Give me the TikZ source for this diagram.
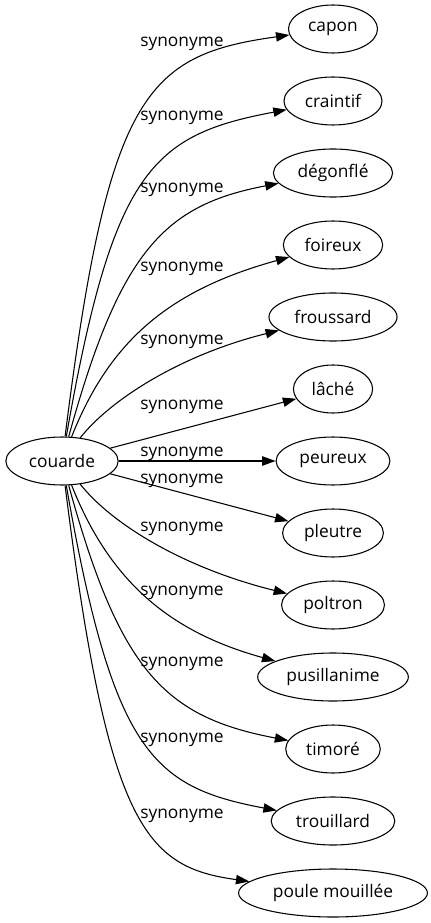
\documentclass[tikz,border=0pt]{standalone}
\usepackage{fontspec}
\setmainfont{Open Sans}
\usetikzlibrary{arrows.meta}
\usetikzlibrary{shapes.geometric}

\begin{document}
\begin{tikzpicture}[x=0.75pt, y=0.75pt,
    word/.style={draw, ellipse, line width=0.8pt, minimum height=36pt,
      inner xsep=5pt, inner ysep=0pt, font=\fontsize{13}{15}\selectfont},
    syn/.style={line width=0.8pt, -{Triangle[length=10pt, width=7pt]}},
    lbl/.style={anchor=base, inner sep=0pt, font=\fontsize{13}{15}\selectfont}]
      \def\rx{333}

      \useasboundingbox (0,0) rectangle (431,-923);

      \node [word] (couarde) at (62,-461) {couarde};

      \node [word] (capon) at (\rx,-29) {capon};
      \node [word] (craintif) at (\rx,-101) {craintif};
      \node [word] (degonfle) at (\rx,-173) {dégonflé};
      \node [word] (foireux) at (\rx,-245) {foireux};
      \node [word] (froussard) at (\rx,-317) {froussard};
      \node [word] (lache) at (\rx,-389) {lâché};
      \node [word] (peureux) at (\rx,-461) {peureux};
      \node [word] (pleutre) at (\rx,-533) {pleutre};
      \node [word] (poltron) at (\rx,-605) {poltron};
      \node [word] (pusillanime) at (\rx,-677) {pusillanime};
      \node [word] (timore) at (\rx,-749) {timoré};
      \node [word] (trouillard) at (\rx,-821) {trouillard};
      \node [word] (poule) at (\rx,-893) {poule mouillée};

      % edges out of couarde
      \draw[syn] (couarde) .. controls (108,-95) and (145,-55) .. (capon);
      \draw[syn] (couarde) .. controls (113,-170) and (152,-135) .. (craintif);
      \draw[syn] (couarde) .. controls (120,-250) and (165,-205) .. (degonfle);
      \draw[syn] (couarde) .. controls (110,-340) and (170,-290) .. (foireux);
      \draw[syn] (couarde) .. controls (110,-400) and (180,-355) .. (froussard);
      \draw[syn] (couarde) -- (lache);
      \draw[syn] (couarde) -- (peureux);
      \draw[syn] (couarde) -- (pleutre);
      \draw[syn] (couarde) .. controls (110,-522) and (180,-567) .. (poltron);
      \draw[syn] (couarde) .. controls (110,-582) and (170,-632) .. (pusillanime);
      \draw[syn] (couarde) .. controls (120,-672) and (165,-717) .. (timore);
      \draw[syn] (couarde) .. controls (113,-752) and (152,-787) .. (trouillard);
      \draw[syn] (couarde) .. controls (108,-827) and (145,-867) .. (poule);

      \node [lbl] (s1) at (182,-47) {synonyme};
      \node [lbl] (s2) at (182,-121) {synonyme};
      \node [lbl] (s3) at (182,-193) {synonyme};
      \node [lbl] (s4) at (182,-272) {synonyme};
      \node [lbl] (s5) at (182,-344) {synonyme};
      \node [lbl] (s6) at (182,-409) {synonyme};
      \node [lbl] (s7) at (182,-456) {synonyme};
      \node [lbl] (s8) at (182,-483) {synonyme};
      \node [lbl] (s9) at (182,-531) {synonyme};
      \node [lbl] (s10) at (182,-595) {synonyme};
      \node [lbl] (s11) at (182,-666) {synonyme};
      \node [lbl] (s12) at (182,-742) {synonyme};
      \node [lbl] (s13) at (182,-818) {synonyme};

\end{tikzpicture}
\end{document}
